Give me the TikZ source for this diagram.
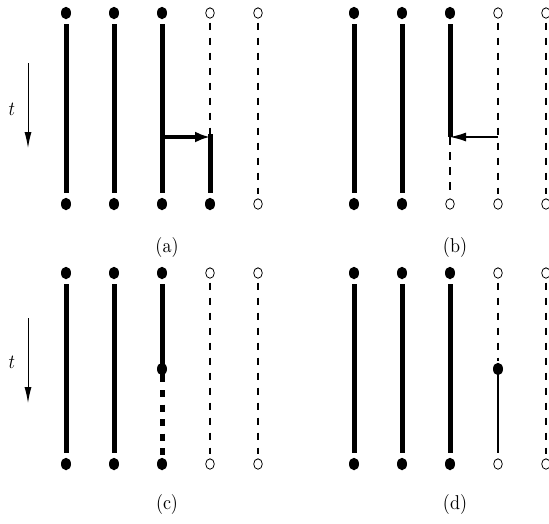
\documentclass[tikz,border=0pt]{standalone}
\usetikzlibrary{shapes.geometric,arrows.meta}
\begin{document}
\begin{tikzpicture}[x=1pt,y=-1pt,
  fdot/.style={ellipse, fill=black, draw=none, minimum width=10pt, minimum height=12.5pt, inner sep=0pt},
  odot/.style={ellipse, draw=black, line width=0.8pt, fill=white, minimum width=8.6pt, minimum height=10.4pt, inner sep=0pt},
  thickline/.style={line width=5pt, shorten <=5pt, shorten >=5pt},
  thinDash/.style={line width=1.1pt, dash pattern=on 7.5pt off 7.5pt, shorten <=4pt, shorten >=4pt},
  edgeDash/.style={line width=1.8pt, dash pattern=on 7.5pt off 7.5pt, shorten <=4pt, shorten >=4pt},
  thickDash/.style={line width=5pt, dash pattern=on 7pt off 7.5pt},
  tarrow/.style={line width=1pt, -{Latex[length=16pt,width=7pt]}},
  lab/.style={inner sep=0pt},
]
\useasboundingbox (0,0) rectangle (549,523);

% ---------- time arrows ----------
\coordinate (ta1) at (28,63);  \coordinate (ta2) at (28,148);
\coordinate (tc1) at (28,318); \coordinate (tc2) at (28,403);
\draw[tarrow] (ta1) -- (ta2);
\draw[tarrow] (tc1) -- (tc2);
\node[lab] (tla) at (12,109) {\scalebox{1.8}[2.0]{$t$}};
\node[lab] (tlc) at (12,362) {\scalebox{1.8}[2.0]{$t$}};

% ---------- panel (a) ----------
\foreach \i/\x in {1/66,2/114,3/162} \node[fdot] (at\i) at (\x,13) {};
\foreach \i/\x in {4/210,5/258} \node[odot] (at\i) at (\x,13) {};
\foreach \i/\x in {1/66,2/114,3/162,4/210} \node[fdot] (ab\i) at (\x,204) {};
\node[odot] (ab5) at (258,204) {};
\coordinate (am3) at (162,137);
\coordinate (am4) at (210,137);
\coordinate (am4t) at (210,134);
\draw[thickline] (at1) -- (ab1);
\draw[thickline] (at2) -- (ab2);
\draw[thickline] (at3) -- (ab3);
\draw[thinDash, shorten >=0pt] (at4) -- (am4);
\draw[line width=5pt, shorten >=5pt] (am4t) -- (ab4);
\draw[thinDash] (at5) -- (ab5);
\draw[line width=4.5pt, -{Latex[length=15pt,width=11pt]}] (am3) -- (am4);
\node[lab] (la) at (167,247) {\scalebox{1.8}[2.0]{(a)}};

% ---------- panel (b) ----------
\foreach \i/\x in {1/354,2/402,3/450} \node[fdot] (bt\i) at (\x,13) {};
\foreach \i/\x in {4/498,5/546} \node[odot] (bt\i) at (\x,13) {};
\foreach \i/\x in {1/354,2/402} \node[fdot] (bb\i) at (\x,204) {};
\foreach \i/\x in {3/450,4/498,5/546} \node[odot] (bb\i) at (\x,204) {};
\coordinate (bm3) at (450,137);
\coordinate (bm4) at (498,137);
\draw[thickline] (bt1) -- (bb1);
\draw[thickline] (bt2) -- (bb2);
\draw[thickline, shorten >=0pt] (bt3) -- (bm3);
\draw[thinDash, shorten <=0pt] (bm3) -- (bb3);
\draw[thinDash] (bt4) -- (bb4);
\draw[edgeDash] (bt5) -- (bb5);
\draw[line width=1.3pt, -{Latex[length=16pt,width=9pt]}] (bm4) -- (bm3);
\node[lab] (lb) at (455,247) {\scalebox{1.8}[2.0]{(b)}};

% ---------- panel (c) ----------
\foreach \i/\x in {1/66,2/114,3/162} \node[fdot] (ct\i) at (\x,273) {};
\foreach \i/\x in {4/210,5/258} \node[odot] (ct\i) at (\x,273) {};
\foreach \i/\x in {1/66,2/114,3/162} \node[fdot] (cb\i) at (\x,464) {};
\foreach \i/\x in {4/210,5/258} \node[odot] (cb\i) at (\x,464) {};
\coordinate (cs3) at (162,382);
\coordinate (cd3) at (162,390);
\draw[thickline] (ct1) -- (cb1);
\draw[thickline] (ct2) -- (cb2);
\draw[thickline, shorten >=0pt] (ct3) -- (cs3);
\draw[thickDash] (cd3) -- (cb3);
\node[fdot] (cm3) at (162,369) {};
\draw[thinDash] (ct4) -- (cb4);
\draw[thinDash] (ct5) -- (cb5);
\node[lab] (lc) at (167,504) {\scalebox{1.8}[2.0]{(c)}};

% ---------- panel (d) ----------
\foreach \i/\x in {1/354,2/402,3/450} \node[fdot] (dt\i) at (\x,273) {};
\foreach \i/\x in {4/498,5/546} \node[odot] (dt\i) at (\x,273) {};
\foreach \i/\x in {1/354,2/402,3/450} \node[fdot] (db\i) at (\x,464) {};
\foreach \i/\x in {4/498,5/546} \node[odot] (db\i) at (\x,464) {};
\node[fdot] (dm4) at (498,369) {};
\draw[thickline] (dt1) -- (db1);
\draw[thickline] (dt2) -- (db2);
\draw[thickline] (dt3) -- (db3);
\draw[thinDash, shorten >=2pt] (dt4) -- (dm4);
\draw[line width=1.3pt, shorten >=5pt] (dm4) -- (db4);
\draw[edgeDash] (dt5) -- (db5);
\node[lab] (ld) at (455,504) {\scalebox{1.8}[2.0]{(d)}};
\end{tikzpicture}
\end{document}
